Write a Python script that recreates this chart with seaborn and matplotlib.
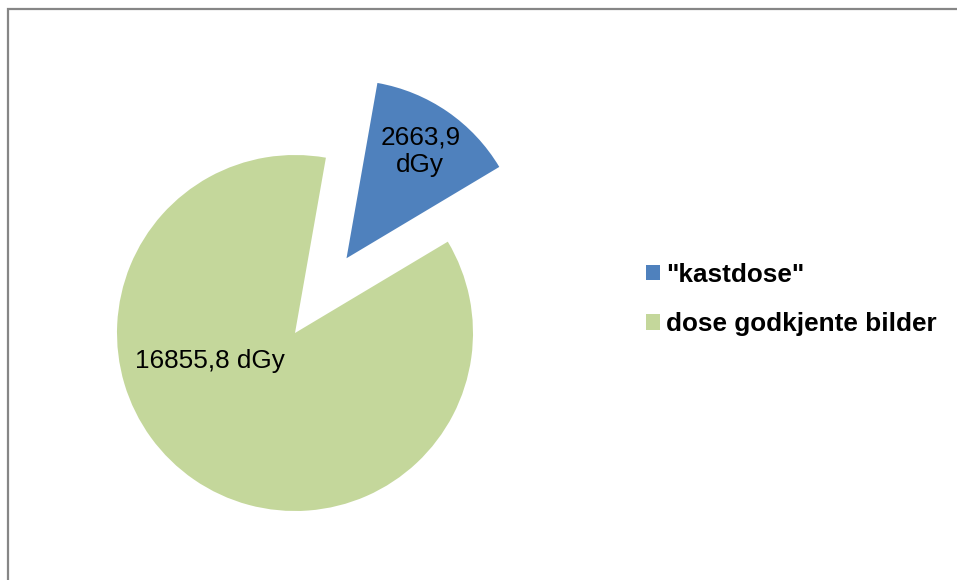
import matplotlib
matplotlib.use("Agg")
import matplotlib.pyplot as plt
import seaborn as sns
import numpy as np
from matplotlib.patches import Patch, Rectangle

# Data
categories = ['"kastdose"', 'dose godkjente bilder']
doses = [2663.9, 16855.8]
unit = "dGy"
colors = ["#4F81BD", "#C4D79B"]

sns.set_theme(style="white")
plt.rcParams['font.family'] = ['Liberation Sans', 'DejaVu Sans']
plt.rcParams['text.color'] = "black"

W, H = 957, 580
fig = plt.figure(figsize=(W / 100, H / 100), dpi=100)
fig.patch.set_facecolor("white")

# pie geometry in pixels
R = 178.0
cx, cy = 295.0, 333.0
ax = fig.add_axes([0, 0, 1, 1])

wedges, _ = ax.pie(
    doses,
    colors=colors,
    startangle=80,
    counterclock=False,
    explode=[0.51, 0.0],
    radius=1.0,
    wedgeprops=dict(linewidth=0),
)
ax.set_xlim(-cx / R, (W - cx) / R)
ax.set_ylim(-(H - cy) / R, cy / R)
ax.axis("off")

def fmt(v):
    return f"{v:.1f}".replace(".", ",")

# value labels: (distance from wedge centre, angle in degrees or None for mid-angle)
label_layout = [(0.73, None), (0.50, 198.0)]
label_texts = [f"{fmt(doses[0])}\n{unit}", f"{fmt(doses[1])} {unit}"]
for w, (dist, ang), txt in zip(wedges, label_layout, label_texts):
    if ang is None:
        ang = (w.theta1 + w.theta2) / 2.0
    x0, y0 = w.center
    x = x0 + dist * np.cos(np.radians(ang))
    y = y0 + dist * np.sin(np.radians(ang))
    ax.text(x, y, txt, ha="center", va="center", fontsize=18.8,
            color="black", linespacing=1.17)

handles = [Patch(facecolor=c, edgecolor="none") for c in colors]
fig.legend(
    handles, categories,
    loc="center left",
    bbox_to_anchor=(646 / W, 1 - 299.5 / H),
    frameon=False,
    borderpad=0, borderaxespad=0,
    handlelength=0.55, handleheight=0.55,
    handletextpad=0.23, labelspacing=0.98,
    labelcolor="black",
    prop={"size": 18.8, "weight": "bold"},
)

# chart border
fig.patches.append(Rectangle((8 / W, -0.5), 2.0, 0.5 + (H - 9) / H,
                             fill=False, edgecolor="#868686", linewidth=1.6,
                             transform=fig.transFigure))

fig.savefig("out.png", dpi=100, facecolor="white")
